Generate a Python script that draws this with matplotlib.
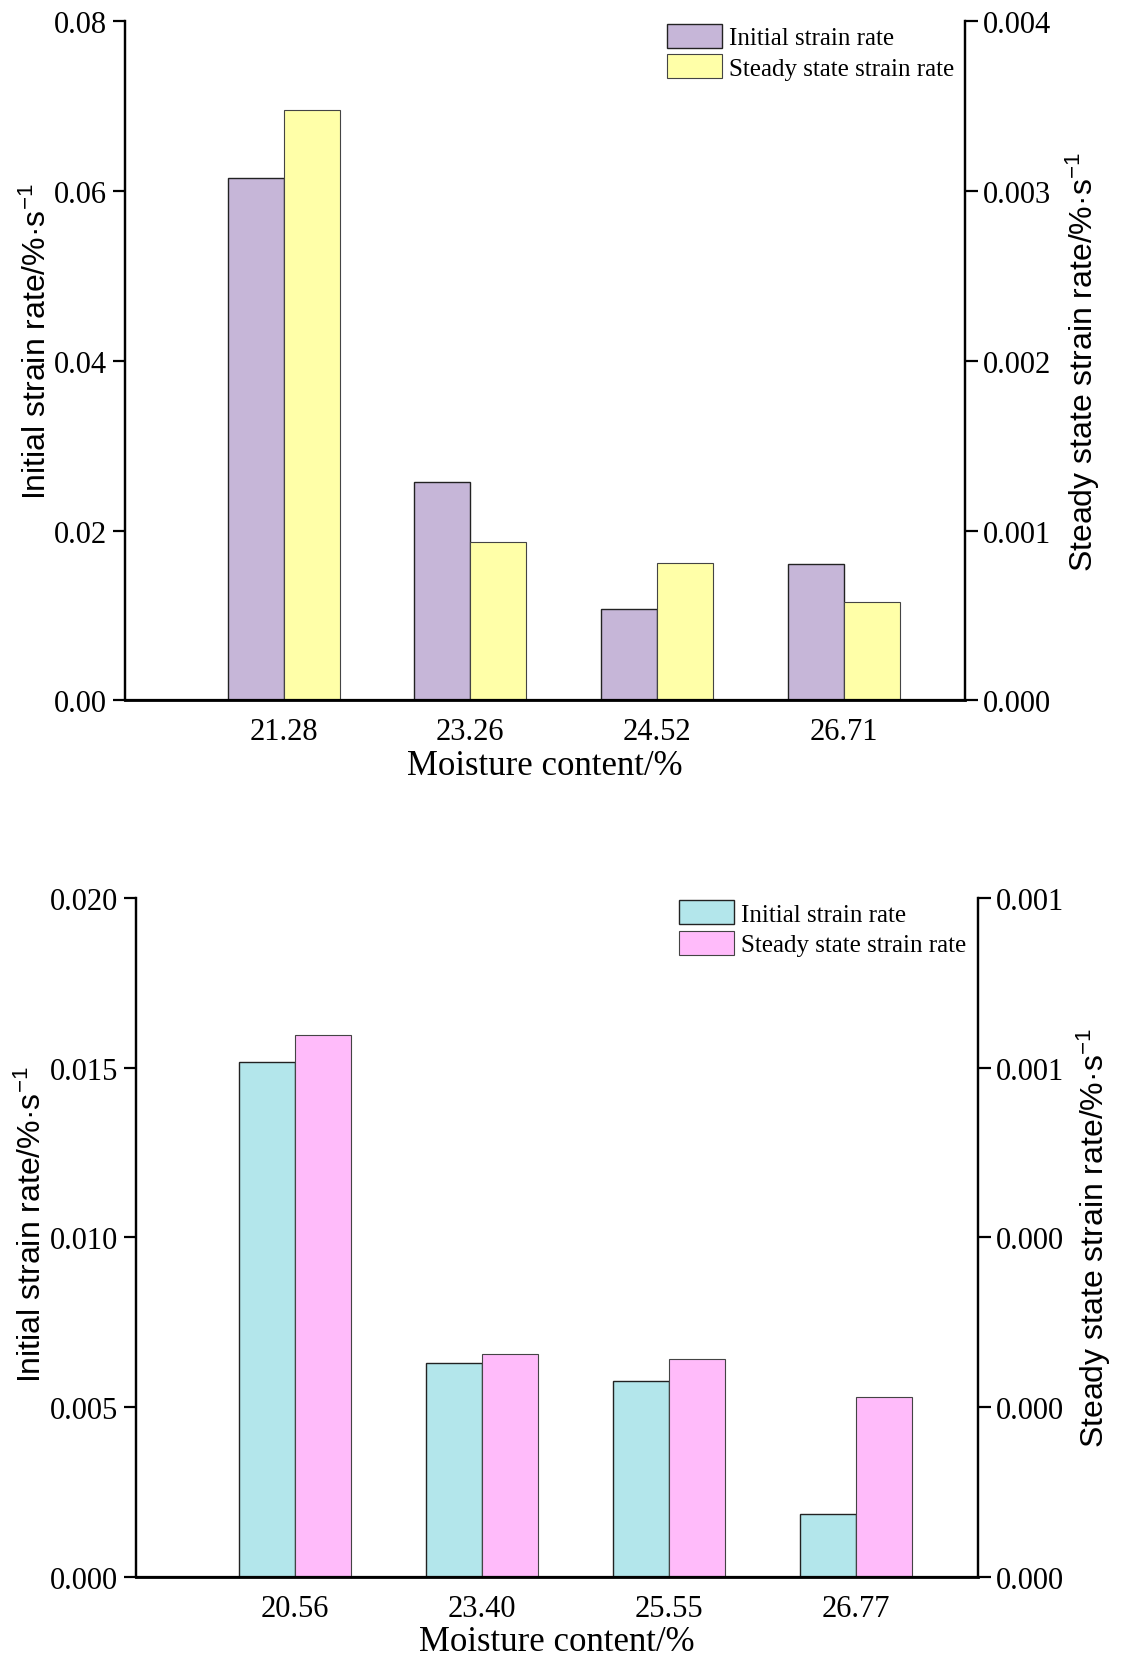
import numpy as np
import matplotlib
matplotlib.use('Agg')
import matplotlib.pyplot as plt

# data
top_cats = ['21.28', '23.26', '24.52', '26.71']
top_initial = [0.0616, 0.0257, 0.0108, 0.0161]
top_steady = [0.00348, 0.00093, 0.00081, 0.00058]
top_left_ticks = [0.0, 0.02, 0.04, 0.06, 0.08]
top_left_labels = ['0.00', '0.02', '0.04', '0.06', '0.08']
top_right_ticks = [0.0, 0.001, 0.002, 0.003, 0.004]
top_right_labels = ['0.000', '0.001', '0.002', '0.003', '0.004']

bot_cats = ['20.56', '23.40', '25.55', '26.77']
bot_initial = [0.01517, 0.00629, 0.00576, 0.00184]
bot_steady = [0.000798, 0.000329, 0.000321, 0.000265]
bot_left_ticks = [0.0, 0.005, 0.010, 0.015, 0.020]
bot_left_labels = ['0.000', '0.005', '0.010', '0.015', '0.020']
bot_right_ticks = [0.0, 0.00025, 0.0005, 0.00075, 0.001]
bot_right_labels = ['0.000', '0.000', '0.000', '0.001', '0.001']

serif = 'Liberation Serif'
sans = 'Liberation Sans'
plt.rcParams['font.family'] = serif
plt.rcParams['mathtext.fontset'] = 'custom'
plt.rcParams['mathtext.rm'] = sans
plt.rcParams['mathtext.it'] = sans

fig = plt.figure(figsize=(11.25, 16.58), dpi=100)

panels = [
    ([0.111, 0.577, 0.747, 0.4095], top_cats, top_initial, top_steady,
     top_left_ticks, top_left_labels, top_right_ticks, top_right_labels,
     ('#C6B6D8', '#FFFFA8'), (-0.086, 0.53), (1.117, 0.5)),
    ([0.121, 0.0483, 0.748, 0.4095], bot_cats, bot_initial, bot_steady,
     bot_left_ticks, bot_left_labels, bot_right_ticks, bot_right_labels,
     ('#B3E6EB', '#FFBBFA'), (-0.105, 0.52), (1.115, 0.5)),
]

width = 0.3
for (rect, cats, init, steady, lt, ll, rt, rl, colors,
        lpos, rpos) in panels:
    ax = fig.add_axes(rect)
    ax2 = ax.twinx()
    x = np.arange(len(cats))
    b1 = ax.bar(x - width / 2, init, width, color=colors[0],
            edgecolor='#222222', linewidth=1.0, label='Initial strain rate')
    b2 = ax2.bar(x + width / 2, steady, width, color=colors[1],
            edgecolor='#444444', linewidth=0.8,
            label='Steady state strain rate')
    ax.set_xlim(-0.85, 3.65)
    ax.set_ylim(lt[0], lt[-1])
    ax2.set_ylim(rt[0], rt[-1])
    ax.set_yticks(lt)
    ax.set_yticklabels(ll)
    ax2.set_yticks(rt)
    ax2.set_yticklabels(rl)
    ax.set_xticks(x)
    ax.set_xticklabels(cats)

    for a in (ax, ax2):
        a.spines['top'].set_visible(False)
        for s in a.spines.values():
            s.set_linewidth(1.6)
        a.tick_params(axis='y', direction='out', length=9, width=1.6,
                labelsize=22, pad=4)
    ax.spines['bottom'].set_linewidth(2.0)
    ax.tick_params(axis='x', length=0, labelsize=22, pad=12)

    ax.set_xlabel('Moisture content/%', fontsize=25, labelpad=2)
    ax.set_ylabel('Initial strain rate/%·s$^{-1}$', fontsize=23,
            family=sans)
    ax.yaxis.set_label_coords(*lpos)
    ax2.set_ylabel('Steady state strain rate/%·s$^{-1}$',
            fontsize=23, family=sans, rotation=90)
    ax2.yaxis.set_label_coords(*rpos)

    ax2.legend([b1, b2], ['Initial strain rate', 'Steady state strain rate'],
            loc='upper right', frameon=False, fontsize=18,
            handlelength=2.2, handleheight=1.1, handletextpad=0.3,
            labelspacing=0.2, borderaxespad=0.0, borderpad=0.1,
            bbox_to_anchor=(0.99, 1.0))

fig.savefig('out.png', dpi=100, facecolor='white')
